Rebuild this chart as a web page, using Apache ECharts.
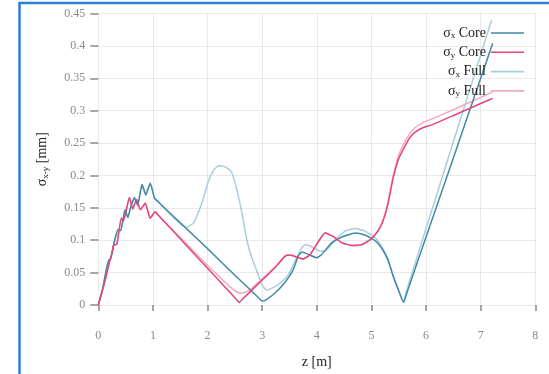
<!DOCTYPE html>
<html>
<head>
<meta charset="utf-8">
<script src="https://cdn.jsdelivr.net/npm/echarts@6/dist/echarts.min.js"></script>
<style>
  html, body { margin: 0; padding: 0; background: #fff; }
  #chart { width: 549px; height: 374px; }
</style>
</head>
<body>
<div id="chart"></div>
<script>
// Beam size along z: [z (m), sigma (mm)] samples for each series
const sigmaXCore = [
  [0, 0], [0.08, 0.025], [0.16, 0.06], [0.2, 0.07], [0.23, 0.072], [0.3, 0.1],
  [0.36, 0.116], [0.41, 0.115], [0.49, 0.147], [0.54, 0.135], [0.59, 0.15],
  [0.66, 0.166], [0.72, 0.154], [0.8, 0.186], [0.87, 0.17], [0.95, 0.188],
  [1.03, 0.165], [1.1, 0.159], [1.6, 0.119], [2.0, 0.087], [2.5, 0.046],
  [2.9, 0.014], [3.0, 0.006], [3.07, 0.008], [3.24, 0.019],
  [3.42, 0.035], [3.57, 0.055], [3.66, 0.0755], [3.73, 0.082], [3.85, 0.078],
  [4.0, 0.073], [4.09, 0.078], [4.27, 0.096], [4.46, 0.105], [4.7, 0.111],
  [4.88, 0.108], [5.0, 0.103], [5.1, 0.097], [5.2, 0.086], [5.3, 0.07],
  [5.4, 0.044], [5.5, 0.022], [5.59, 0.004], [5.65, 0.019], [6.0, 0.105],
  [6.5, 0.227], [7.0, 0.35], [7.22, 0.404]
];

const sigmaYCore = [
  [0, 0], [0.1, 0.03], [0.15, 0.047], [0.2, 0.065], [0.25, 0.08], [0.28, 0.092],
  [0.34, 0.094], [0.42, 0.134], [0.46, 0.13], [0.57, 0.166], [0.63, 0.148],
  [0.7, 0.163], [0.77, 0.147], [0.86, 0.157], [0.95, 0.134], [1.04, 0.144],
  [1.1, 0.1385], [1.3, 0.1204], [1.6, 0.0931], [2.0, 0.0567], [2.3, 0.0295],
  [2.5, 0.0113], [2.58, 0.004], [2.65, 0.0098], [3.0, 0.0385], [3.24, 0.058],
  [3.42, 0.0755], [3.51, 0.077], [3.66, 0.073],
  [3.75, 0.071], [3.88, 0.078], [4.03, 0.098], [4.15, 0.111], [4.3, 0.106],
  [4.46, 0.096], [4.64, 0.092], [4.82, 0.093], [4.98, 0.101], [5.1, 0.112],
  [5.2, 0.127], [5.3, 0.155], [5.4, 0.197], [5.5, 0.226], [5.6, 0.243],
  [5.7, 0.258], [5.8, 0.267], [5.95, 0.274], [6.1, 0.278], [6.5, 0.2925],
  [7.0, 0.311], [7.22, 0.319]
];

const sigmaXFull = [
  [0, 0], [0.08, 0.025], [0.16, 0.06], [0.2, 0.07], [0.23, 0.072], [0.3, 0.1],
  [0.36, 0.116], [0.41, 0.115], [0.49, 0.147], [0.54, 0.135], [0.59, 0.15],
  [0.66, 0.166], [0.72, 0.154], [0.8, 0.186], [0.87, 0.17], [0.95, 0.188],
  [1.03, 0.165], [1.1, 0.159], [1.6, 0.12], [1.74, 0.126], [1.86, 0.149], [1.95, 0.172],
  [2.01, 0.19], [2.11, 0.208], [2.2, 0.215], [2.3, 0.214], [2.38, 0.21],
  [2.44, 0.205], [2.53, 0.18], [2.63, 0.142], [2.72, 0.1], [2.81, 0.073],
  [2.9, 0.053], [2.99, 0.032], [3.08, 0.023], [3.18, 0.026], [3.3, 0.032],
  [3.48, 0.047], [3.63, 0.073], [3.72, 0.088], [3.79, 0.093], [3.88, 0.091],
  [4.06, 0.083], [4.15, 0.083], [4.34, 0.101], [4.52, 0.114], [4.7, 0.118],
  [4.88, 0.114], [5.0, 0.108], [5.1, 0.101], [5.22, 0.086], [5.3, 0.072],
  [5.4, 0.045], [5.5, 0.022], [5.58, 0.005], [5.65, 0.024], [6.0, 0.118],
  [6.5, 0.252], [7.0, 0.386], [7.2, 0.44]
];

const sigmaYFull = [
  [0, 0], [0.1, 0.03], [0.15, 0.047], [0.2, 0.065], [0.25, 0.08], [0.28, 0.092],
  [0.34, 0.094], [0.42, 0.134], [0.46, 0.13], [0.57, 0.166], [0.63, 0.148],
  [0.7, 0.163], [0.77, 0.147], [0.86, 0.157], [0.95, 0.134], [1.04, 0.144],
  [1.1, 0.1385], [1.3, 0.121], [1.6, 0.096], [2.0, 0.061], [2.2, 0.045], [2.4, 0.029],
  [2.5, 0.022], [2.6, 0.018], [2.7, 0.02], [2.8, 0.025], [2.9, 0.033],
  [3.0, 0.041], [3.24, 0.059], [3.42, 0.0755], [3.51, 0.077], [3.66, 0.073],
  [3.75, 0.071], [3.88, 0.078], [4.03, 0.098], [4.15, 0.111], [4.3, 0.106],
  [4.46, 0.096], [4.64, 0.092], [4.82, 0.093], [4.98, 0.101], [5.1, 0.112],
  [5.2, 0.128], [5.3, 0.158], [5.4, 0.2], [5.5, 0.232], [5.6, 0.25],
  [5.7, 0.264], [5.8, 0.274], [5.95, 0.282], [6.1, 0.287], [6.5, 0.3015],
  [7.0, 0.3205], [7.22, 0.329]
];

const seriesNames = ['σx Core', 'σy Core', 'σx Full', 'σy Full'];
const seriesColors = ['#3f8aa4', '#e6457a', '#a8cfdb', '#f4a9c3'];
const seriesData = [sigmaXCore, sigmaYCore, sigmaXFull, sigmaYFull];

const serif = '"Liberation Serif", "DejaVu Serif", serif';

const chart = echarts.init(document.getElementById('chart'), null, { renderer: 'canvas' });

// legend label: "σx Core" -> sigma with subscript + suffix
function legendLabel(name) {
  const sub = name.charAt(1);
  const rest = name.slice(2);
  return '{g|σ}{s|' + sub + '}{g|' + rest + '}';
}

const option = {
  animation: false,
  backgroundColor: '#fff',
  grid: { left: 98.3, right: 13.7, top: 13.5, bottom: 66.3 },
  graphic: [{
    type: 'rect',
    silent: true,
    z: 100,
    shape: { x: 19.5, y: 3, width: 620, height: 500 },
    style: { fill: 'none', stroke: '#2c7fd2', lineWidth: 2.5 }
  }],
  legend: {
    orient: 'vertical',
    right: 20,
    top: 20,
    align: 'right',
    icon: 'rect',
    itemWidth: 33,
    itemHeight: 1.6,
    itemGap: 3.3,
    data: seriesNames,
    formatter: legendLabel,
    textStyle: {
      fontFamily: serif,
      fontSize: 14,
      color: '#222',
      lineHeight: 16,
      rich: {
        g: { fontFamily: serif, fontSize: 14, color: '#222', lineHeight: 16 },
        s: { fontFamily: serif, fontSize: 9, color: '#222', padding: [6, 0, 0, 0] }
      }
    }
  },
  xAxis: {
    type: 'value',
    min: 0,
    max: 8,
    interval: 1,
    offset: 4,
    name: 'z [m]',
    nameLocation: 'middle',
    nameGap: 46,
    nameTextStyle: { fontFamily: serif, fontSize: 14, color: '#222' },
    axisLine: { show: false },
    axisTick: { show: true, length: 6, lineStyle: { color: '#888', width: 1.5 } },
    axisLabel: { margin: 21, fontFamily: serif, fontSize: 12, color: '#8a8a8a' },
    splitLine: { show: true, lineStyle: { type: 'dotted', color: '#d4d4d4' } }
  },
  yAxis: {
    type: 'value',
    min: 0,
    max: 0.45,
    interval: 0.05,
    name: '{g|σ}{s|x-y}{g| [mm]}',
    nameLocation: 'middle',
    nameRotate: 90,
    nameGap: 48,
    nameTextStyle: {
      fontFamily: serif,
      fontSize: 14,
      color: '#222',
      rich: {
        g: { fontFamily: serif, fontSize: 14, color: '#222' },
        s: { fontFamily: serif, fontSize: 9, color: '#222', padding: [6, 0, 0, 0] }
      }
    },
    axisLine: { show: false },
    axisTick: { show: true, length: 8, lineStyle: { color: '#888', width: 1.5 } },
    axisLabel: { margin: 13, fontFamily: serif, fontSize: 12, color: '#8a8a8a' },
    splitLine: { show: true, lineStyle: { type: 'dotted', color: '#d4d4d4' } }
  },
  series: seriesNames.map((name, i) => ({
    name: name,
    type: 'line',
    data: seriesData[i],
    showSymbol: false,
    symbol: 'none',
    smooth: 0.15,
    z: i >= 2 ? 2 : 3,
    color: seriesColors[i],
    lineStyle: { width: 1.5, color: seriesColors[i] }
  }))
};

chart.setOption(option);
</script>
</body>
</html>
